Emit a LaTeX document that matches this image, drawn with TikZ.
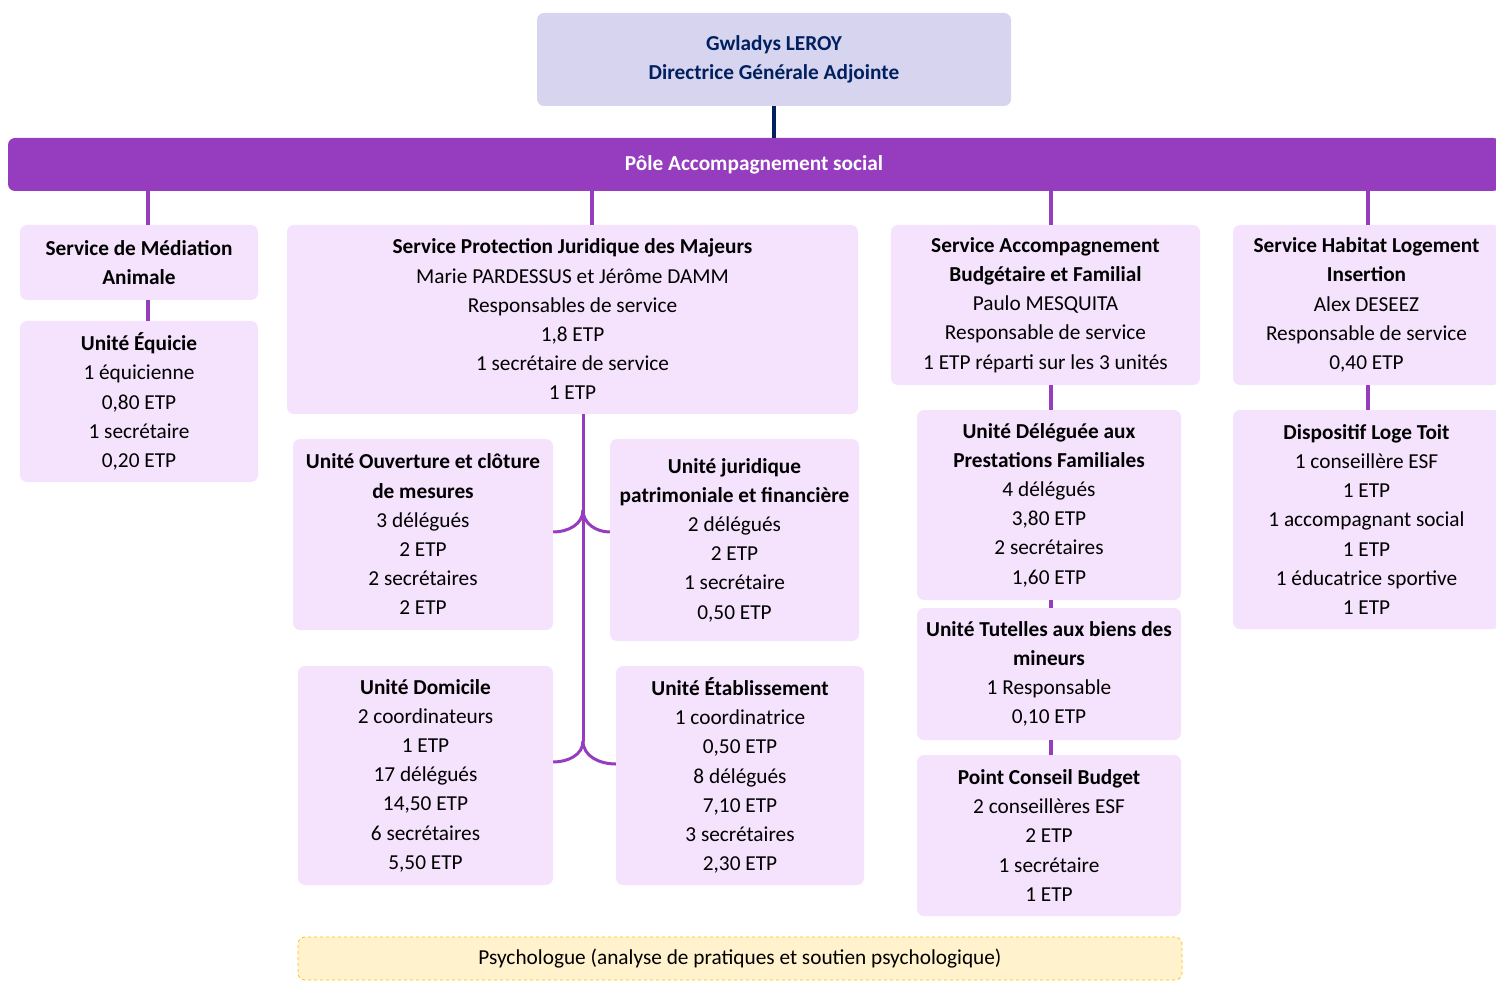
\documentclass[tikz,border=0pt]{standalone}
\usepackage{fontspec}
\setmainfont{Carlito}
\usepackage{tikz}
\usetikzlibrary{calc,arrows,shapes}
\tikzset{>=latex}
\definecolor{dgafill}{RGB}{214, 212, 238}
\definecolor{dganavy}{RGB}{0, 32, 96}
\definecolor{polepurple}{RGB}{150, 60, 190}
\definecolor{unitpink}{RGB}{245, 226, 252}
\definecolor{psyyellow}{RGB}{255, 242, 204}
\definecolor{psyorange}{RGB}{255, 192, 0}
\newcommand{\orgfont}{\fontsize{21.3}{29.2}\selectfont}
\tikzset{
  dgabox/.style = {rectangle, rounded corners = 7pt, fill = dgafill, text = dganavy, align = center, inner sep = 0pt, font = \orgfont\bfseries},
  polebar/.style = {rectangle, rounded corners = 7pt, fill = polepurple, text = white, align = center, inner sep = 0pt, font = \orgfont\bfseries},
  unitbox/.style = {rectangle, rounded corners = 7pt, fill = unitpink, text = black, align = center, inner sep = 0pt, font = \orgfont},
  psybox/.style = {rectangle, rounded corners = 7pt, fill = psyyellow, draw = psyorange, dashed, line width = 0.8pt, align = center, inner sep = 0pt, font = \orgfont},
  link/.style = {polepurple, line width = 4pt},
  navylink/.style = {dganavy, line width = 4pt},
  fork/.style = {polepurple, line width = 3pt}
}

\begin{document}
\begin{tikzpicture}[x = 1pt, y = 1pt]
\useasboundingbox (0,0) rectangle (1496,-981);

\node[dgabox, minimum width = 474, minimum height = 93] (dga) at (774,-59.5) {Gwladys LEROY\\Directrice Générale Adjointe};
\node[polebar, minimum width = 1492, minimum height = 53] (pole) at (754,-164.5) {Pôle Accompagnement social};

% colonne 1
\node[unitbox, minimum width = 238, minimum height = 75] (med) at (139,-262.5) {\textbf{Service de Médiation}\\\textbf{Animale}};
\node[unitbox, minimum width = 238, minimum height = 161] (equ) at (139,-401.5) {\textbf{Unité Équicie}\\1 équicienne\\0,80 ETP\\1 secrétaire\\0,20 ETP};

% colonne 2
\node[unitbox, minimum width = 571, minimum height = 189] (spjm) at (572.5,-319.5) {\textbf{Service Protection Juridique des Majeurs}\\Marie PARDESSUS et Jérôme DAMM\\Responsables de service\\1,8 ETP\\1 secrétaire de service\\1 ETP};
\node[unitbox, minimum width = 260, minimum height = 191] (ouv) at (423,-534.5) {\textbf{Unité Ouverture et clôture}\\\textbf{de mesures}\\3 délégués\\2 ETP\\2 secrétaires\\2 ETP};
\node[unitbox, minimum width = 249, minimum height = 202] (jur) at (734.5,-540) {\textbf{Unité juridique}\\\textbf{patrimoniale et financière}\\2 délégués\\2 ETP\\1 secrétaire\\0,50 ETP};
\node[unitbox, minimum width = 255, minimum height = 219] (dom) at (425.5,-775.5) {\textbf{Unité Domicile}\\2 coordinateurs\\1 ETP\\17 délégués\\14,50 ETP\\6 secrétaires\\5,50 ETP};
\node[unitbox, minimum width = 248, minimum height = 219] (etab) at (740,-775.5) {\textbf{Unité Établissement}\\1 coordinatrice\\0,50 ETP\\8 délégués\\7,10 ETP\\3 secrétaires\\2,30 ETP};

% colonne 3
\node[unitbox, minimum width = 309, minimum height = 160] (sabf) at (1045.5,-305) {\textbf{Service Accompagnement}\\\textbf{Budgétaire et Familial}\\Paulo MESQUITA\\Responsable de service\\1 ETP réparti sur les 3 unités};
\node[unitbox, minimum width = 264, minimum height = 190] (udpf) at (1049,-505) {\textbf{Unité Déléguée aux}\\\textbf{Prestations Familiales}\\4 délégués\\3,80 ETP\\2 secrétaires\\1,60 ETP};
\node[unitbox, minimum width = 264, minimum height = 132] (utbm) at (1049,-674) {\textbf{Unité Tutelles aux biens des}\\\textbf{mineurs}\\1 Responsable\\0,10 ETP};
\node[unitbox, minimum width = 264, minimum height = 161] (pcb) at (1049,-835.5) {\textbf{Point Conseil Budget}\\2 conseillères ESF\\2 ETP\\1 secrétaire\\1 ETP};

% colonne 4
\node[unitbox, minimum width = 267, minimum height = 160] (shli) at (1366.5,-305) {\textbf{Service Habitat Logement}\\\textbf{Insertion}\\Alex DESEEZ\\Responsable de service\\0,40 ETP};
\node[unitbox, minimum width = 267, minimum height = 219] (dlt) at (1366.5,-519.5) {\textbf{Dispositif Loge Toit}\\1 conseillère ESF\\1 ETP\\1 accompagnant social\\1 ETP\\1 éducatrice sportive\\1 ETP};

\node[psybox, minimum width = 884, minimum height = 43] (psy) at (740,-958.5) {Psychologue (analyse de pratiques et soutien psychologique)};

% liens
\coordinate (c1) at (148,0);
\coordinate (c2) at (592,0);
\coordinate (c3) at (1051,0);
\coordinate (c4) at (1368,0);
\coordinate (spine) at (583,0);
\coordinate (forkA) at (583,-510);
\coordinate (forkB) at (583,-741);

\draw[navylink] (dga.south) -- (dga.south |- pole.north);
\foreach \c/\n in {c1/med, c2/spjm, c3/sabf, c4/shli}
  \draw[link] (pole.south -| \c) -- (\n.north -| \c);
\draw[link] (med.south -| c1) -- (equ.north -| c1);
\draw[link] (sabf.south -| c3) -- (udpf.north -| c3);
\draw[link] (udpf.south -| c3) -- (utbm.north -| c3);
\draw[link] (utbm.south -| c3) -- (pcb.north -| c3);
\draw[link] (shli.south -| c4) -- (dlt.north -| c4);

\draw[fork] (spjm.south -| spine) -- (forkB);
\draw[fork] (forkA) to[out = -90, in = 0] (ouv.east |- 0,-532);
\draw[fork] (forkA) to[out = -90, in = 180] (jur.west |- 0,-532);
\draw[fork] (forkB) to[out = -90, in = 0] (dom.east |- 0,-762);
\draw[fork] (forkB) to[out = -90, in = 180] (etab.west |- 0,-764);
\end{tikzpicture}
\end{document}
